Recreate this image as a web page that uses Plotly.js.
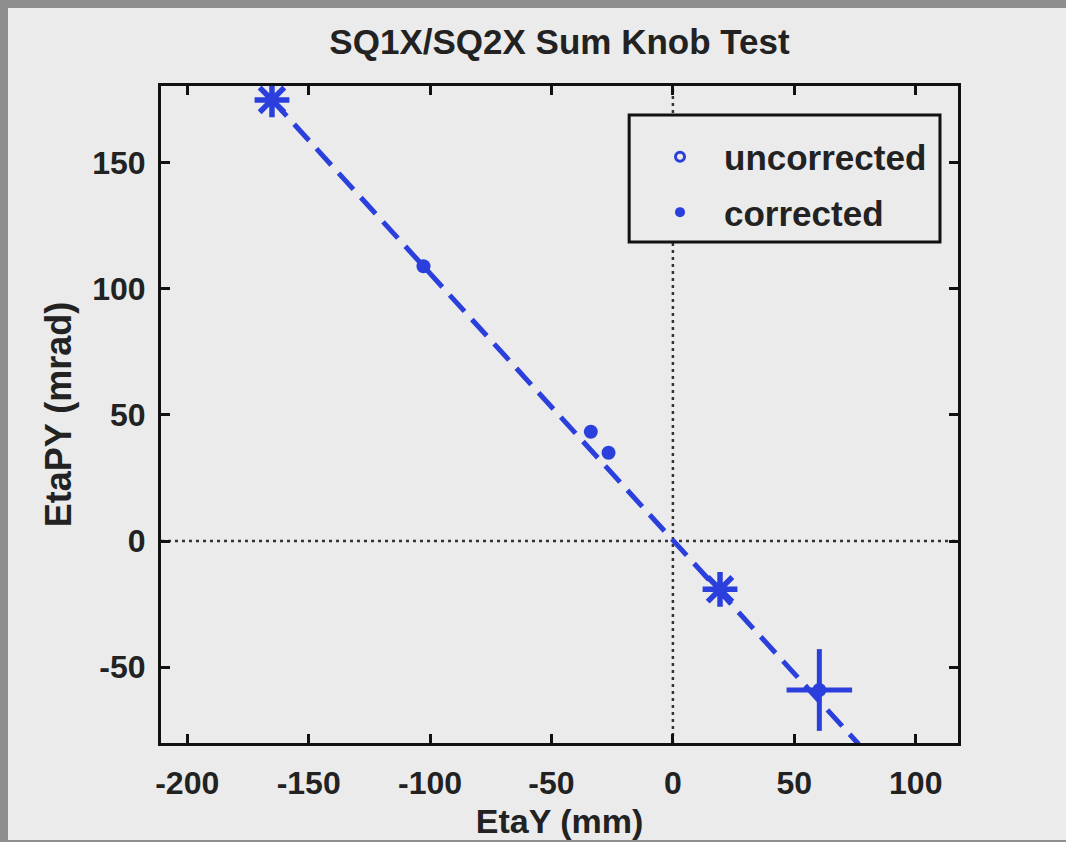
<!DOCTYPE html>
<html><head><meta charset="utf-8">
<script src="https://cdn.plot.ly/plotly-3.0.1.min.js"></script>
<style>
html,body{margin:0;padding:0;background:#ebebeb;width:1066px;height:842px;overflow:hidden;}
#plot{position:absolute;left:8px;top:8px;width:1058px;height:832px;}
.fr{position:absolute;background:#8e8e8e;z-index:5;}
</style></head><body><div id="plot"></div>
<div class="fr" style="left:0;top:0;width:1066px;height:8px;"></div>
<div class="fr" style="left:0;top:0;width:8px;height:842px;"></div>
<div class="fr" style="left:0;top:840px;width:1066px;height:2px;"></div>
<script>
// Tick values / labels
const xTicks = [-200, -150, -100, -50, 0, 50, 100];
const xTickLabels = ["-200", "-150", "-100", "-50", "0", "50", "100"];
const yTicks = [-50, 0, 50, 100, 150];
const yTickLabels = ["-50", "0", "50", "100", "150"];

// Data
const uncorrX = [-165.1, 19.4];
const uncorrY = [174.8, -19.1];
const corrX = [-102.7, -33.8, -26.5, 60.3];
const corrY = [108.9, 43.3, 35.0, -59.0];
const errPtX = [60.3];
const errPtY = [-59.0];
const errXVals = [13.5];
const errYVals = [16.2];
const fitX = [-165.1, 76.5];
const fitY = [174.8, -80.5];
const seriesNames = ['uncorrected', 'corrected'];

const BLUE = '#2b3fdc';
const FONT = 'Liberation Sans, Arial, Helvetica, sans-serif';
const BG = '#ebebeb';

const traces = [
  {x: fitX, y: fitY, mode: 'lines', showlegend: false, hoverinfo: 'skip',
   line: {color: BLUE, width: 5, dash: '22px,11px'}},
  {x: errPtX, y: errPtY, mode: 'markers', showlegend: false,
   marker: {color: BLUE, size: 1, opacity: 0},
   error_x: {type: 'data', array: errXVals, visible: true, color: BLUE, thickness: 5, width: 0},
   error_y: {type: 'data', array: errYVals, visible: true, color: BLUE, thickness: 5, width: 0}},
  {x: uncorrX, y: uncorrY, mode: 'markers', showlegend: false,
   marker: {symbol: 'asterisk-open', size: 29, color: BLUE, line: {color: BLUE, width: 5.5}}},
  {x: uncorrX, y: uncorrY, mode: 'markers', showlegend: false,
   marker: {symbol: 'circle-open', size: 9, color: BLUE, line: {color: BLUE, width: 3}}},
  {x: corrX, y: corrY, mode: 'markers', showlegend: false,
   marker: {symbol: 'circle', size: 14, color: BLUE}},
  // legend entries (same series, legend-sized symbols)
  {x: [null], y: [null], mode: 'markers', name: seriesNames[0], legendgroup: 'a',
   marker: {symbol: 'circle-open', size: 9, color: BLUE, line: {color: BLUE, width: 3}}},
  {x: [null], y: [null], mode: 'markers', name: seriesNames[1], legendgroup: 'b',
   marker: {symbol: 'circle', size: 10, color: BLUE}}
];

const axisCommon = {
  showgrid: false, zeroline: false, showline: true, linecolor: '#111', linewidth: 3,
  mirror: 'ticks', ticks: 'inside', ticklen: 9, tickwidth: 3, tickcolor: '#111',
  tickmode: 'array', tickfont: {family: FONT, size: 32, color: '#222', weight: 'bold'}
};

const layout = {
  width: 1058, height: 832,
  paper_bgcolor: BG, plot_bgcolor: BG,
  margin: {l: 153, r: 108, t: 78, b: 97},
  title: {text: 'SQ1X/SQ2X Sum Knob Test', x: 0.5, xref: 'paper', xanchor: 'center',
          y: 0.959, yref: 'container', yanchor: 'middle',
          font: {family: FONT, size: 35, color: '#222', weight: 'bold'}},
  xaxis: Object.assign({}, axisCommon, {
    range: [-210.8, 117.4], tickvals: xTicks, ticktext: xTickLabels, ticklabelstandoff: 10,
    title: {text: 'EtaY (mm)', standoff: 25, font: {family: FONT, size: 34, color: '#222', weight: 'bold'}}
  }),
  yaxis: Object.assign({}, axisCommon, {
    range: [-80, 180.3], tickvals: yTicks, ticktext: yTickLabels, ticklabelstandoff: 6,
    title: {text: 'EtaPY (mrad)', standoff: 10, font: {family: FONT, size: 36, color: '#222', weight: 'bold'}}
  }),
  showlegend: true,
  legend: {x: 0.596, xanchor: 'left', y: 0.937, yanchor: 'top', bgcolor: 'rgba(0,0,0,0)',
           borderwidth: 0, itemwidth: 78, traceorder: 'grouped', tracegroupgap: 7,
           font: {family: FONT, size: 35, color: '#222', weight: 'bold'}},
  shapes: [
    {type: 'line', xref: 'x', yref: 'paper', x0: 0, x1: 0, y0: 0, y1: 1, layer: 'below',
     line: {color: '#333', width: 2.5, dash: '3px,4px'}},
    {type: 'line', xref: 'paper', yref: 'y', x0: 0, x1: 1, y0: 0, y1: 0, layer: 'below',
     line: {color: '#333', width: 2.5, dash: '3px,4px'}},
    {type: 'rect', xref: 'paper', yref: 'paper', x0: 0.5874, x1: 0.9774, y0: 0.7626, y1: 0.9559,
     layer: 'above', fillcolor: BG, line: {color: '#111', width: 3}}
  ]
};

Plotly.newPlot('plot', traces, layout, {displayModeBar: false, staticPlot: true});
</script></body></html>
